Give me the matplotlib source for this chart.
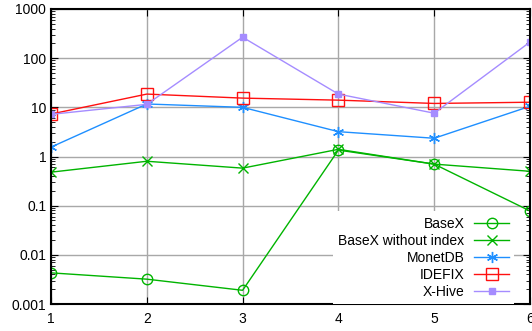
import matplotlib
matplotlib.use('Agg')
import matplotlib.pyplot as plt
from matplotlib.ticker import LogLocator, NullFormatter, FixedLocator

plt.rcParams['font.family'] = ['Liberation Sans', 'DejaVu Sans']

queries = [1, 2, 3, 4, 5, 6]
basex = [0.0043, 0.0032, 0.0019, 1.35, 0.7, 0.078]
basex_noindex = [0.48, 0.8, 0.58, 1.4, 0.7, 0.5]
monetdb = [1.55, 11.7, 10.0, 3.2, 2.35, 10.5]
idefix = [7.3, 18.6, 15.4, 14.0, 12.0, 12.7]
xhive = [7.2, 11.5, 267, 18.6, 7.6, 213]
y_ticks = [0.001, 0.01, 0.1, 1, 10, 100, 1000]
y_labels = ['0.001', '0.01', '0.1', '1', '10', '100', '1000']

green = '#00b400'
blue = '#1e8fff'
red = '#ff1010'
purple = '#a58cff'

fig = plt.figure(figsize=(5.32, 3.31), dpi=100)
ax = fig.add_axes([51 / 532, 27 / 331, 479 / 532, 295 / 331])

ax.plot(queries, basex, color=green, lw=1, marker='o', ms=7.5,
        mfc='none', mec=green, mew=1, label='BaseX')
ax.plot(queries, basex_noindex, color=green, lw=1, marker='x', ms=7.5,
        mew=1, label='BaseX without index')
ax.plot(queries, monetdb, color=blue, lw=1, marker=(6, 2, 0), ms=8,
        mew=1, label='MonetDB')
ax.plot(queries, idefix, color=red, lw=1, marker='s', ms=9,
        mfc='none', mec=red, mew=1, label='IDEFIX')
ax.plot(queries, xhive, color=purple, lw=1, marker='s', ms=4.5,
        mfc=purple, mec=purple, label='X-Hive')

ax.set_yscale('log')
ax.set_ylim(0.001, 1000)
ax.set_xlim(1, 6)
ax.yaxis.set_major_locator(FixedLocator(y_ticks))
ax.set_yticklabels(y_labels)
ax.yaxis.set_minor_locator(LogLocator(base=10, subs=[2, 3, 4, 5, 6, 7, 8, 9], numticks=20))
ax.yaxis.set_minor_formatter(NullFormatter())
ax.set_xticks(queries)

ax.grid(True, which='major', color='#a8a8a8', lw=1)
ax.set_axisbelow(True)
ax.tick_params(which='both', direction='in', top=True, right=True, labelsize=10)
ax.tick_params(which='major', length=5)
ax.tick_params(which='minor', length=3)
ax.tick_params(axis='x', pad=6)
for s in ax.spines.values():
    s.set_linewidth(1.5)

leg = ax.legend(loc='lower right', bbox_to_anchor=(0.982, -0.025), markerfirst=False,
                frameon=True, fancybox=False, framealpha=1, edgecolor='none',
                fontsize=10, handlelength=2.5, handletextpad=0.7,
                labelspacing=0.22, borderpad=0.4)

fig.savefig('out.png', dpi=100)
